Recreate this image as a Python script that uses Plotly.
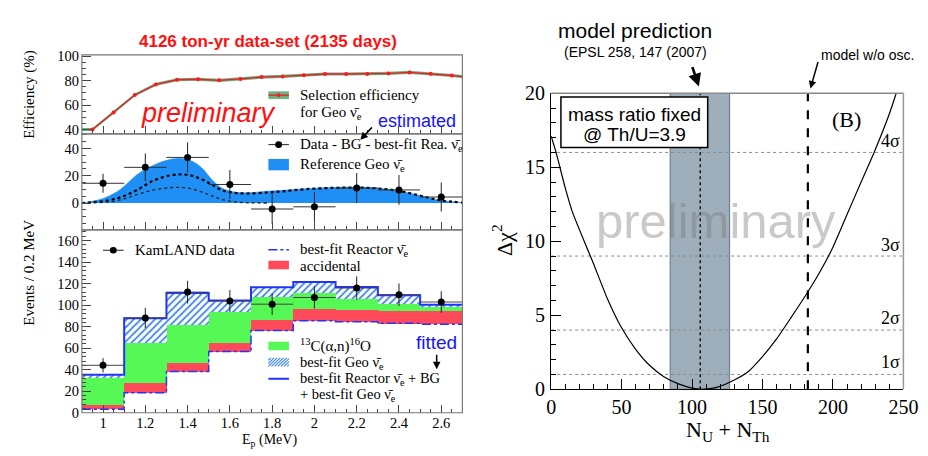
import plotly.graph_objects as go

W, H = 928, 456
def px(x): return x / W
def py(y): return 1 - y / H

SERIF = "Liberation Serif"
SANS = "Liberation Sans"
NUBAR = "\u03bd\u0304<sub>e</sub>"

# ---------------- data: efficiency panel ----------------
eff_E = [0.95, 1.05, 1.15, 1.25, 1.35, 1.45, 1.55, 1.65, 1.75, 1.85,
         1.95, 2.05, 2.15, 2.25, 2.35, 2.45, 2.55, 2.65]
eff_val = [40.0, 54.0, 68.3, 77.0, 80.8, 81.2, 80.3, 81.5, 83.0, 83.5,
           84.5, 85.5, 85.5, 85.5, 86.0, 86.8, 85.8, 84.3]
eff_edge_E = [0.9, 2.7]
eff_edge_val = [40.0, 83.4]
eff_halfwidth = [1.3, 1.3, 1.3, 1.3, 1.3, 1.3, 1.3, 1.3, 1.3, 1.3,
                 1.3, 1.3, 1.3, 1.3, 1.3, 1.3, 1.3, 1.3, 1.3, 1.3]

# ---------------- data: geo-neutrino panel ----------------
geo_E = [0.9, 0.944, 1.006, 1.083, 1.16, 1.238, 1.315, 1.369, 1.423, 1.469,
         1.515, 1.562, 1.624, 1.685, 1.778, 1.85, 1.963, 2.117, 2.272, 2.395,
         2.503, 2.596, 2.7]
ref_geo = [0.0, 1.2, 3.6, 10.1, 20.7, 27.7, 31.9, 32.9, 30.6, 25.5,
           17.3, 11.0, 8.0, 7.5, 8.7, 9.4, 10.5, 11.5, 11.2, 9.1,
           5.4, 2.0, 0.3]
fit_geo = [0.0, 0.5, 1.4, 4.2, 9.5, 16.4, 20.2, 21.1, 19.9, 17.2,
           13.6, 9.4, 7.5, 7.0, 7.7, 8.6, 10.2, 11.2, 11.0, 9.0,
           5.3, 2.0, 0.3]
u_E = [0.9, 0.944, 1.006, 1.083, 1.16, 1.238, 1.315, 1.369, 1.423, 1.469,
       1.515, 1.562, 1.624, 1.685, 1.778]
u_geo = [0.0, 0.2, 0.5, 2.3, 6.1, 9.6, 11.2, 11.5, 10.2, 8.0,
         5.3, 2.6, 0.9, 0.2, 0.0]

bin_E = [1.0, 1.2, 1.4, 1.6, 1.8, 2.0, 2.2, 2.4, 2.6]
sub_val = [14.5, 26.2, 33.5, 13.6, -4.4, -2.8, 11.0, 9.6, 4.4]
sub_err = [7.0, 10.2, 11.1, 10.6, 10.8, 11.0, 11.0, 10.9, 10.7]

# ---------------- data: event spectrum panel ----------------
reactor = [3.2, 18.6, 38.3, 57.0, 76.5, 85.5, 84.6, 83.1, 82.3]
accidental = [4.5, 8.9, 7.7, 8.4, 9.5, 10.8, 11.5, 11.9, 12.4]
c13 = [24.5, 37.9, 35.6, 28.0, 21.4, 15.0, 9.8, 6.5, 4.0]
geo_fit = [3.0, 22.5, 29.6, 11.0, 9.2, 10.3, 11.0, 7.7, 1.6]
kam_val = [44.1, 88.1, 112.1, 103.8, 100.9, 107.1, 115.9, 109.7, 102.9]
kam_err = [6.6, 9.4, 10.6, 10.2, 10.0, 10.3, 10.8, 10.5, 10.1]
bin_halfwidth = 0.1

# ---------------- data: delta chi2 panel ----------------
chi_N = [0, 3.5, 10, 15, 20, 27.8, 30, 40, 50, 60, 70, 80, 90, 100, 107,
         115, 120, 130, 140, 150, 160, 170, 181.7, 190, 200, 210, 220, 229.2,
         240, 244.9]
chi_val = [17.1, 16.0, 13.6, 12.0, 10.8, 9.0, 8.5, 6.1, 4.15, 2.7, 1.6, 0.85,
           0.38, 0.08, 0.0, 0.07, 0.2, 0.62, 1.2, 2.2, 3.4, 4.8, 6.5, 7.8,
           9.6, 11.8, 14.0, 16.0, 18.6, 20.0]
model_lo, model_hi, model_center = 84.5, 126.6, 105.8
model_noosc = 182.2
sigma_levels = [1, 4, 9, 16]
sigma_labels = ["1\u03c3", "2\u03c3", "3\u03c3", "4\u03c3"]

# ---------------- derived stacking ----------------
acc_top = [r + a for r, a in zip(reactor, accidental)]
c13_top = [a + c for a, c in zip(acc_top, c13)]
total = [c + g for c, g in zip(c13_top, geo_fit)]
edges = [e - bin_halfwidth for e in bin_E] + [bin_E[-1] + bin_halfwidth]
def step(v): return v + [v[-1]]

RED = "#ff4a5a"
GREEN = "#55f855"
BLUE_FILL = "#1f8ff5"
HATCH = "#3f86e8"
LINE_BLUE = "#2233ff"

fig = go.Figure()

band_E = [eff_edge_E[0]] + eff_E + [eff_edge_E[1]]
band_v = [eff_edge_val[0]] + eff_val + [eff_edge_val[1]]
fig.add_trace(go.Scatter(x=band_E, y=[v - h for v, h in zip(band_v, eff_halfwidth)],
                         mode="lines", line=dict(width=0, color="rgba(0,0,0,0)"),
                         xaxis="x", yaxis="y", showlegend=False, hoverinfo="skip"))
fig.add_trace(go.Scatter(x=band_E, y=[v + h for v, h in zip(band_v, eff_halfwidth)],
                         mode="lines", line=dict(width=0, color="rgba(0,0,0,0)"),
                         fill="tonexty", fillcolor="rgba(80,165,105,0.85)",
                         xaxis="x", yaxis="y", showlegend=False))
fig.add_trace(go.Scatter(x=eff_E + [eff_edge_E[1]], y=eff_val + [eff_edge_val[1]],
                         mode="lines", line=dict(color="#e8202a", width=1.3),
                         xaxis="x", yaxis="y", showlegend=False))
fig.add_trace(go.Scatter(x=eff_E, y=eff_val, mode="markers",
                         marker=dict(color="#ff1a1a", size=4),
                         xaxis="x", yaxis="y", showlegend=False))

fig.add_trace(go.Scatter(x=geo_E, y=ref_geo, mode="lines", fill="tozeroy",
                         fillcolor=BLUE_FILL, line=dict(color=BLUE_FILL, width=0.5, shape="spline"),
                         xaxis="x2", yaxis="y2", showlegend=False))
fig.add_trace(go.Scatter(x=geo_E, y=fit_geo, mode="lines",
                         line=dict(color="black", width=2.2, dash="dot", shape="spline"),
                         xaxis="x2", yaxis="y2", showlegend=False))
fig.add_trace(go.Scatter(x=u_E, y=u_geo, mode="lines",
                         line=dict(color="#222", width=1.3, dash="dot", shape="spline"),
                         xaxis="x2", yaxis="y2", showlegend=False))
fig.add_trace(go.Scatter(x=bin_E, y=sub_val, mode="markers",
                         marker=dict(color="black", size=7),
                         error_y=dict(type="data", array=sub_err, color="#222", thickness=1, width=0),
                         error_x=dict(type="constant", value=bin_halfwidth, color="#333", thickness=1, width=0),
                         xaxis="x2", yaxis="y2", showlegend=False))

fig.add_trace(go.Bar(x=bin_E, y=accidental, base=reactor, width=0.2,
                     marker=dict(color=RED, line=dict(width=0)),
                     xaxis="x3", yaxis="y3", showlegend=False))
fig.add_trace(go.Bar(x=bin_E, y=c13, base=acc_top, width=0.2,
                     marker=dict(color=GREEN, line=dict(width=0)),
                     xaxis="x3", yaxis="y3", showlegend=False))
fig.add_trace(go.Bar(x=bin_E, y=geo_fit, base=c13_top, width=0.2,
                     marker=dict(color="white", line=dict(width=0),
                                 pattern=dict(shape="/", fgcolor=HATCH, bgcolor="white",
                                              size=5, solidity=0.35, fillmode="replace")),
                     xaxis="x3", yaxis="y3", showlegend=False))
fig.add_trace(go.Scatter(x=edges, y=step(reactor), mode="lines",
                         line=dict(color=LINE_BLUE, width=1.5, dash="dashdot", shape="hv"),
                         xaxis="x3", yaxis="y3", showlegend=False))
fig.add_trace(go.Scatter(x=edges, y=step(total), mode="lines",
                         line=dict(color=LINE_BLUE, width=2, shape="hv"),
                         xaxis="x3", yaxis="y3", showlegend=False))
fig.add_trace(go.Scatter(x=bin_E, y=kam_val, mode="markers",
                         marker=dict(color="black", size=7),
                         error_y=dict(type="data", array=kam_err, color="#222", thickness=1, width=0),
                         error_x=dict(type="constant", value=bin_halfwidth, color="#444", thickness=1, width=0),
                         xaxis="x3", yaxis="y3", showlegend=False))

fig.add_trace(go.Scatter(x=chi_N, y=chi_val, mode="lines",
                         line=dict(color="black", width=1.2, shape="spline", smoothing=0.6),
                         xaxis="x4", yaxis="y4", showlegend=False))

# ---------------- layout ----------------
LX = [px(70.4), px(459.3)]
RX = [px(550), px(910)]
D_TOP = [py(120.7), py(37.7)]
D_MID = [py(221.5), py(120.7)]
D_BOT = [py(413.7), py(221.5)]
D_R = [py(389), py(78)]

tickfont = dict(family=SERIF, size=14.5, color="black")
def xax(domain, anchor, labels):
    return dict(domain=domain, anchor=anchor, range=[0.9, 2.7], showgrid=False, zeroline=False,
                showline=False, ticks="inside", ticklen=8, tickcolor="#444",
                tick0=1.0, dtick=0.2, showticklabels=labels, tickfont=tickfont,
                minor=dict(dtick=0.05, tick0=0.9, ticks="inside", ticklen=4, tickcolor="#444"))
def yax(domain, anchor, rng, tickvals, mdt):
    return dict(domain=domain, anchor=anchor, range=rng, showgrid=False, zeroline=False,
                showline=False, ticks="inside", ticklen=9, tickcolor="#444",
                tickvals=tickvals, tickfont=tickfont, ticklabelstandoff=2,
                minor=dict(dtick=mdt, tick0=0, ticks="inside", ticklen=4, tickcolor="#444"))

shapes = []
for (y0, y1) in [(37.7, 120.7), (120.7, 221.5), (221.5, 413.7)]:
    shapes.append(dict(type="rect", xref="paper", yref="paper", x0=LX[0], x1=LX[1],
                       y0=py(y1), y1=py(y0), line=dict(color="#777", width=1.2), layer="above"))
shapes.append(dict(type="line", xref="paper", yref="paper", x0=RX[0], x1=RX[1], y0=D_R[1], y1=D_R[1],
                   line=dict(color="#888", width=1.3)))
shapes.append(dict(type="line", xref="paper", yref="paper", x0=RX[1], x1=RX[1], y0=D_R[0], y1=D_R[1],
                   line=dict(color="#999", width=1.5)))
shapes.append(dict(type="rect", xref="x4", yref="y4", x0=model_lo, x1=model_hi, y0=0, y1=20,
                   fillcolor="#9eaebb", line=dict(color="#72808c", width=1.2), layer="below"))
shapes.append(dict(type="line", xref="x4", yref="y4", x0=model_center, x1=model_center, y0=0, y1=20,
                   line=dict(color="black", width=1.3, dash="dot"), layer="below"))
shapes.append(dict(type="line", xref="x4", yref="y4", x0=model_noosc, x1=model_noosc, y0=0, y1=20,
                   line=dict(color="black", width=2.2, dash="dash"), layer="below"))
for s in sigma_levels:
    shapes.append(dict(type="line", xref="x4", yref="y4", x0=0, x1=250, y0=s, y1=s,
                       line=dict(color="#8a8a8a", width=1, dash="dot"), layer="below"))
shapes.append(dict(type="rect", xref="paper", yref="paper", x0=px(560), x1=px(710), y0=py(135), y1=py(82),
                   fillcolor="white", line=dict(color="black", width=1.5), layer="above"))

def prect(x0, x1, y0, y1, color):
    return dict(type="rect", xref="paper", yref="paper", x0=px(x0), x1=px(x1), y0=py(y1), y1=py(y0),
                fillcolor=color, line=dict(width=0), layer="above")
def pline(x0, x1, y, color, width=1, dash="solid"):
    return dict(type="line", xref="paper", yref="paper", x0=px(x0), x1=px(x1), y0=py(y), y1=py(y),
                line=dict(color=color, width=width, dash=dash), layer="above")
def pdot(x, y, r, color):
    return dict(type="circle", xref="paper", yref="paper", x0=px(x - r), x1=px(x + r),
                y0=py(y + r), y1=py(y - r), fillcolor=color, line=dict(width=0), layer="above")

shapes += [
    prect(261, 282, 76, 84, "rgba(80,165,105,0.85)"), pline(261, 282, 80, "#e8202a", 1.3), pdot(271.5, 80, 2, "#ff1a1a"),
    pline(261, 282, 132, "#222", 1), pdot(271.5, 132, 3.5, "black"),
    prect(261, 282, 147, 159, BLUE_FILL),
    pline(92, 113, 243, "#222", 1), pdot(102.5, 243, 3.5, "black"),
    pline(261, 282, 242.5, LINE_BLUE, 1.5, "dashdot"),
    prect(261, 282, 254, 263, RED),
    prect(261, 282, 339, 348, GREEN),
    pline(261, 282, 378, LINE_BLUE, 2),
]
hx0, hx1, hy0, hy1 = 261, 282, 356, 365
for k in range(-2, 8):
    xa = hx0 + k * 3.2
    xb = xa + (hy1 - hy0)
    ya, yb = hy1, hy0
    if xa < hx0:
        ya = hy1 - (hx0 - xa); xa = hx0
    if xb > hx1:
        yb = hy0 + (xb - hx1); xb = hx1
    if xa < xb:
        shapes.append(dict(type="line", xref="paper", yref="paper", x0=px(xa), x1=px(xb),
                           y0=py(ya), y1=py(yb), line=dict(color=HATCH, width=1.2), layer="above"))

ann = []
def txt(x, y, s, size, family=SERIF, color="black", xanchor="left", **kw):
    ann.append(dict(x=px(x), y=py(y), xref="paper", yref="paper", text=s, showarrow=False,
                    xanchor=xanchor, yanchor="middle", font=dict(family=family, size=size, color=color), **kw))
def arrow(x, y, ax, ay, width):
    ann.append(dict(x=px(x), y=py(y), xref="paper", yref="paper", ax=ax, ay=ay, showarrow=True,
                    arrowhead=2, arrowsize=1.0, arrowwidth=width, arrowcolor="black", text=""))

txt(261, 24, "<b>4126 ton-yr data-set (2135 days)</b>", 17, SANS, "#ff1010", "center")
txt(200, 99, "<i>preliminary</i>", 27, SANS, "#ff1010", "center")
txt(413, 107, "estimated", 18, SANS, "#1414ff", "center")
txt(433, 340, "fitted", 19, SANS, "#1414ff", "center")
txt(291, 80, "Selection efficiency", 15)
txt(291, 99, "for Geo " + NUBAR, 15)
txt(291, 132, "Data - BG - best-fit Rea. " + NUBAR, 15)
txt(291, 153, "Reference Geo " + NUBAR, 15)
txt(123, 243, "KamLAND data", 15)
txt(291, 243, "best-fit Reactor " + NUBAR, 15)
txt(291, 259, "accidental", 15)
txt(291, 343, "<sup>13</sup>C(\u03b1,n)<sup>16</sup>O", 15)
txt(291, 361, "best-fit Geo " + NUBAR, 14.5)
txt(291, 378, "best-fit Reactor " + NUBAR + " + BG", 14.5)
txt(291, 395, "+ best-fit Geo " + NUBAR, 14.5)
txt(16, 80, "Efficiency (%)", 15, textangle=-90, xanchor="center")
txt(16, 267, "Events / 0.2 MeV", 15, textangle=-90, xanchor="center")
txt(262, 443, "E<sub>p</sub> (MeV)", 14, xanchor="center")

txt(636, 12, "model prediction", 21, SANS, "black", "center")
txt(636, 35, "(EPSL 258, 147 (2007)", 14, SANS, "black", "center")
txt(873, 38, "model w/o osc.", 14, SANS, "black", "center")
txt(635, 100, "mass ratio fixed", 19, SANS, "black", "center")
txt(635, 121, "@ Th/U=3.9", 19, SANS, "black", "center")
txt(852, 106, "(B)", 22, SERIF, "black", "center")
txt(718, 212, "preliminary", 49, SANS, "rgba(120,120,120,0.4)", "center")
for lvl, lab, yy in zip(sigma_levels, sigma_labels, [360, 314, 237, 128]):
    txt(897, yy, lab, 18, SERIF, "black", "center")
txt(500, 232, "\u0394\u03c7<sup>2</sup>", 22, SERIF, "black", "center", textangle=-90)
txt(731, 433, "N<sub>U</sub> + N<sub>Th</sub>", 22, SERIF, "black", "center")

arrow(701, 71, -7, -21, 2.6)
arrow(815, 73, 8, -28, 1.5)
arrow(355, 127, 13, -14, 1.5)
arrow(433, 368, 0, -16, 1.5)

rtick = dict(family=SERIF, size=20, color="black")
fig.update_layout(
    width=W, height=H, margin=dict(l=0, r=0, t=0, b=0),
    paper_bgcolor="white", plot_bgcolor="rgba(0,0,0,0)",
    barmode="overlay", bargap=0, showlegend=False,
    xaxis=xax(LX, "y", False),
    yaxis=yax(D_TOP, "x", [36.4, 101.2], [40, 60, 80, 100], 5),
    xaxis2=xax(LX, "y2", False),
    yaxis2=yax(D_MID, "x2", [-19.7, 50.8], [0, 20, 40], 5),
    xaxis3=xax(LX, "y3", True),
    yaxis3=yax(D_BOT, "x3", [0, 170], [0, 20, 40, 60, 80, 100, 120, 140, 160], 4),
    xaxis4=dict(domain=RX, anchor="y4", range=[0, 250], showgrid=False, zeroline=False,
                showline=True, linecolor="black", linewidth=1.3, ticks="inside", ticklen=10,
                tickcolor="black", dtick=50, tick0=0, tickfont=rtick,
                minor=dict(dtick=10, ticks="inside", ticklen=5, tickcolor="black")),
    yaxis4=dict(domain=D_R, anchor="x4", range=[0, 20], showgrid=False, zeroline=False,
                showline=True, linecolor="black", linewidth=1.3, ticks="inside", ticklen=10,
                tickcolor="black", dtick=5, tick0=0, tickfont=rtick, ticklabelstandoff=1,
                minor=dict(dtick=1, ticks="inside", ticklen=5, tickcolor="black")),
    shapes=shapes, annotations=ann,
)

fig.write_html("out.html")
